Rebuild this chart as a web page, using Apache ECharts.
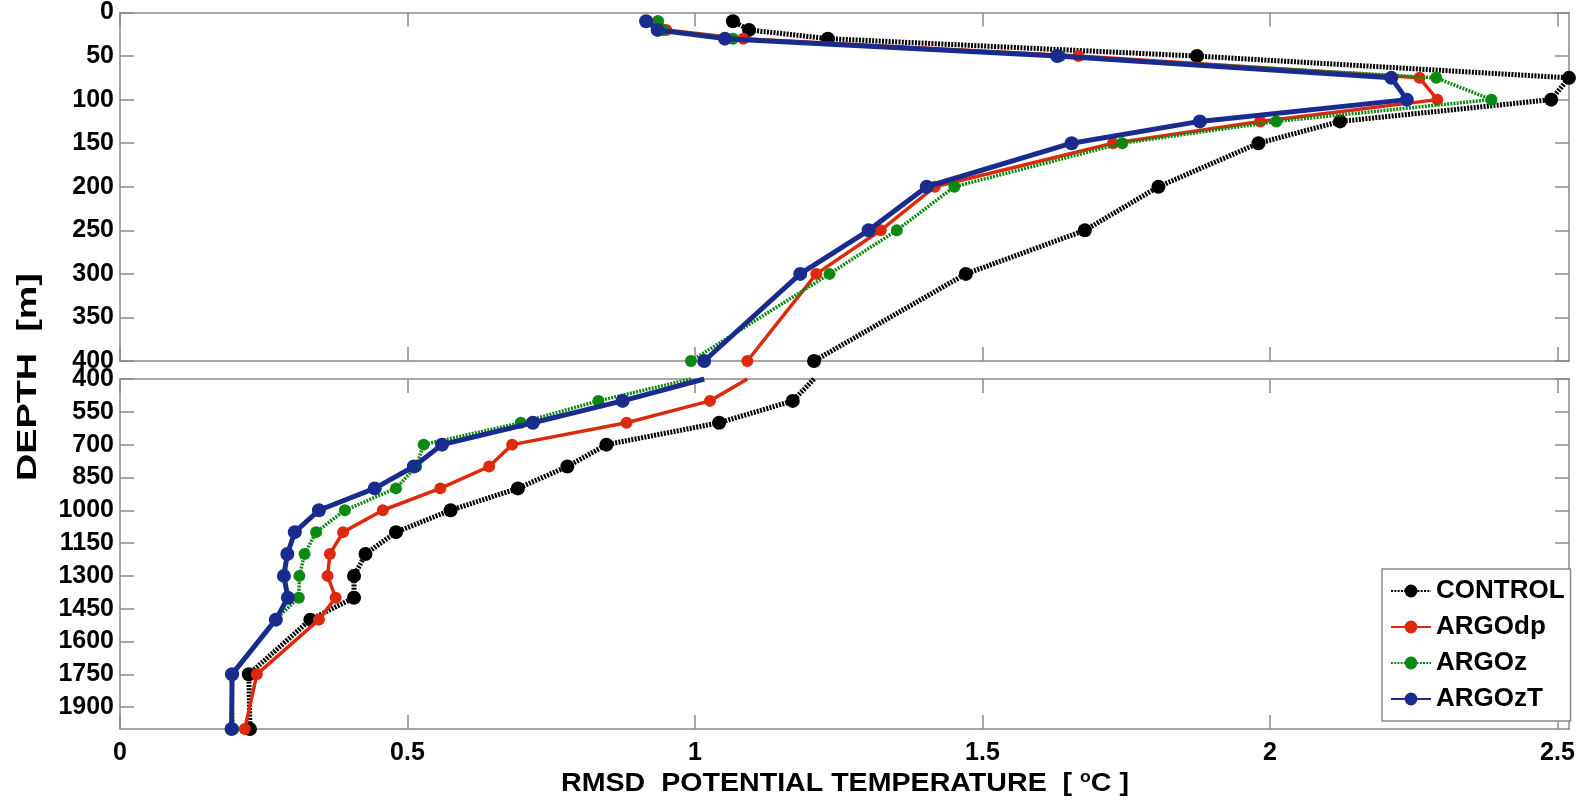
<!DOCTYPE html>
<html>
<head>
<meta charset="utf-8">
<script src="https://cdn.jsdelivr.net/npm/echarts@6/dist/echarts.min.js"></script>
<style>html,body{margin:0;padding:0;background:#fff}#c{width:1585px;height:804px}</style>
</head>
<body>
<div id="c"></div>
<script>
// ---- data ----
const depthUpper = [10, 20, 30, 50, 75, 100, 125, 150, 200, 250, 300, 400];
const depthLower = [400, 500, 600, 700, 800, 900, 1000, 1100, 1200, 1300, 1400, 1500, 1750, 2000];

const controlUpper = [1.066, 1.094, 1.231, 1.873, 2.520, 2.489, 2.122, 1.980, 1.806, 1.678, 1.471, 1.207];
const argodpUpper  = [0.935, 0.950, 1.084, 1.667, 2.260, 2.291, 1.983, 1.727, 1.417, 1.323, 1.211, 1.091];
const argozUpper   = [0.936, 0.945, 1.066, 1.635, 2.289, 2.385, 2.011, 1.743, 1.451, 1.351, 1.234, 0.993];
const argozTUpper  = [0.915, 0.935, 1.052, 1.630, 2.211, 2.238, 1.878, 1.655, 1.403, 1.302, 1.183, 1.016];

const controlLower = [1.207, 1.170, 1.042, 0.846, 0.778, 0.692, 0.575, 0.480, 0.427, 0.407, 0.407, 0.331, 0.224, 0.226];
const argodpLower  = [1.091, 1.026, 0.881, 0.682, 0.642, 0.557, 0.457, 0.388, 0.365, 0.361, 0.375, 0.346, 0.238, 0.217];
const argozLower   = [0.993, 0.832, 0.697, 0.528, 0.515, 0.480, 0.391, 0.341, 0.321, 0.312, 0.311, 0.270, 0.193, 0.197];
const argozTLower  = [1.016, 0.874, 0.718, 0.560, 0.511, 0.443, 0.346, 0.304, 0.291, 0.285, 0.292, 0.271, 0.195, 0.194];

const seriesNames = ['CONTROL', 'ARGOdp', 'ARGOz', 'ARGOzT'];
const xTicks = [0, 0.5, 1, 1.5, 2, 2.5];
const yTicksUpper = [0, 50, 100, 150, 200, 250, 300, 350, 400];
const yTicksLower = [400, 550, 700, 850, 1000, 1150, 1300, 1450, 1600, 1750, 1900];
const xTitle = 'RMSD  POTENTIAL TEMPERATURE  [ ';
const yTitle = 'DEPTH  [m]';

// ---- styles ----
const FONT = '"Liberation Sans", Arial, Helvetica, sans-serif';
const AX = '#8a8a8a';
const styles = [
  {color: '#000000', width: 5, type: [2, 1.3], size: 14},
  {color: '#dd2a0c', width: 3.5, type: 'solid', size: 12},
  {color: '#0b8a12', width: 3.5, type: [2, 1.2], size: 12},
  {color: '#1a2b8e', width: 5, type: 'solid', size: 14}
];

function pairs(xs, ys, skipFirstSymbol) {
  return xs.map((v, i) => {
    if (skipFirstSymbol && i === 0) return {value: [v, ys[i]], symbol: 'none'};
    return [v, ys[i]];
  });
}

const upperVals = [controlUpper, argodpUpper, argozUpper, argozTUpper];
const lowerVals = [controlLower, argodpLower, argozLower, argozTLower];

const series = [];
[0, 1].forEach(g => {
  seriesNames.forEach((name, k) => {
    const s = styles[k];
    series.push({
      name: name,
      type: 'line',
      xAxisIndex: g * 2,
      yAxisIndex: g * 2,
      data: g === 0 ? pairs(upperVals[k], depthUpper, false) : pairs(lowerVals[k], depthLower, true),
      symbol: 'circle',
      symbolSize: s.size,
      showAllSymbol: true,
      clip: g === 1,
      lineStyle: {color: s.color, width: s.width, type: s.type},
      itemStyle: {color: s.color},
      emphasis: {disabled: true},
      z: 2 + k
    });
  });
});

function xAxis(grid, pos, labels) {
  return {
    type: 'value', gridIndex: grid, position: pos, min: 0, max: 2.52,
    axisLine: {show: true, onZero: false, lineStyle: {color: AX, width: 1.5}},
    axisTick: {show: true, inside: true, length: 14, customValues: xTicks, lineStyle: {color: AX, width: 1.5}},
    axisLabel: {show: labels, customValues: xTicks, formatter: v => String(v), margin: 12,
      fontFamily: FONT, fontWeight: 'bold', fontSize: 25, color: '#000'},
    splitLine: {show: false}
  };
}
function yAxis(grid, pos, labels, mn, mx, ticks) {
  return {
    type: 'value', gridIndex: grid, position: pos, min: mn, max: mx, inverse: true,
    axisLine: {show: true, onZero: false, lineStyle: {color: AX, width: 1.5}},
    axisTick: {show: true, inside: true, length: 14, customValues: ticks, lineStyle: {color: AX, width: 1.5}},
    axisLabel: {show: labels, customValues: ticks, formatter: v => String(v), margin: 6,
      fontFamily: FONT, fontWeight: 'bold', fontSize: 25, color: '#000'},
    splitLine: {show: false}
  };
}

const chart = echarts.init(document.getElementById('c'), null, {renderer: 'canvas'});
chart.setOption({
  animation: false,
  backgroundColor: '#ffffff',
  grid: [
    {left: 120, top: 12, width: 1449, height: 349},
    {left: 120, top: 379, width: 1449, height: 350}
  ],
  xAxis: [
    xAxis(0, 'bottom', false), xAxis(0, 'top', false),
    xAxis(1, 'bottom', true), xAxis(1, 'top', false)
  ],
  yAxis: [
    yAxis(0, 'left', true, 0, 400, yTicksUpper), yAxis(0, 'right', false, 0, 400, yTicksUpper),
    yAxis(1, 'left', true, 400, 2000, yTicksLower), yAxis(1, 'right', false, 400, 2000, yTicksLower)
  ],
  legend: {
    data: seriesNames,
    orient: 'vertical',
    left: 1382, top: 569,
    padding: [8, 6, 8, 8],
    itemWidth: 40, itemHeight: 16, itemGap: 8,
    backgroundColor: '#ffffff',
    borderColor: AX, borderWidth: 1.5, borderRadius: 0,
    textStyle: {fontFamily: FONT, fontWeight: 'bold', fontSize: 26, color: '#000', lineHeight: 28},
    selectedMode: false
  },
  graphic: [
    {
      type: 'text', x: 845, y: 784, scaleX: 1.1,
      style: {
        text: '{t|' + xTitle + '}{s|o}{t|C ]}',
        align: 'center', verticalAlign: 'middle',
        rich: {
          t: {fontFamily: FONT, fontWeight: 'bold', fontSize: 26, fill: '#000'},
          s: {fontFamily: FONT, fontWeight: 'bold', fontSize: 16, fill: '#000', padding: [0, 0, 12, 0]}
        }
      }
    },
    {
      type: 'text', rotation: Math.PI / 2, x: 14, y: 377, scaleX: 1.35,
      style: {text: yTitle, fontFamily: FONT, fontWeight: 'bold', fontSize: 28, fill: '#000', align: 'center', verticalAlign: 'top'}
    }
  ],
  series: series
});
</script>
</body>
</html>
